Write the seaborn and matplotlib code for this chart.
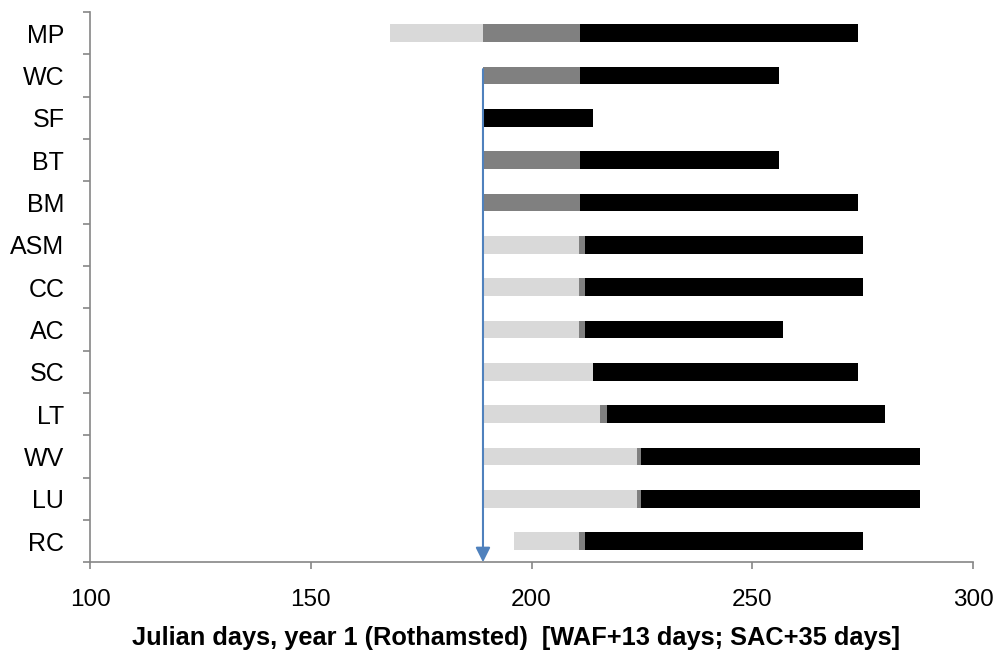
import matplotlib
matplotlib.use('Agg')
import matplotlib.pyplot as plt
import seaborn as sns
import pandas as pd
import numpy as np

sns.set_style('white')
plt.rcParams['font.family'] = ['Liberation Sans', 'DejaVu Sans']
plt.rcParams['text.color'] = 'black'
plt.rcParams['xtick.labelcolor'] = 'black'
plt.rcParams['ytick.labelcolor'] = 'black'
plt.rcParams['axes.labelcolor'] = 'black'

# crop codes, top to bottom
crops = ['MP', 'WC', 'SF', 'BT', 'BM', 'ASM', 'CC', 'AC', 'SC', 'LT', 'WV', 'LU', 'RC']
# Julian day where each bar starts
start = [168, 189, 189, 189, 189, 189, 189, 189, 189, 189, 189, 189, 196]
# end of light grey phase
light_end = [189, 189, 189, 189, 189, 210.8, 210.8, 210.8, 214, 215.6, 223.8, 223.8, 210.8]
# end of dark grey phase
dark_end = [211, 211, 189, 211, 211, 212.2, 212.2, 212.2, 214, 217, 224.8, 224.8, 212.2]
# end of black phase
end = [274, 256, 214, 256, 274, 275, 275, 257, 274, 280, 288, 288, 275]
arrow_day = 189

df = pd.DataFrame({'crop': crops, 'start': start, 'light_end': light_end,
                   'dark_end': dark_end, 'end': end})

fig, ax = plt.subplots(figsize=(9.97, 6.53), dpi=100)
fig.subplots_adjust(left=0.0903, right=0.976, top=0.9816, bottom=0.139)

bw = 0.42
# draw back to front, cumulative ends; white bar masks the part before start
sns.barplot(data=df, x='end', y='crop', color='black', width=bw, linewidth=0, ax=ax, orient='h')
sns.barplot(data=df, x='dark_end', y='crop', color='#808080', width=bw, linewidth=0, ax=ax, orient='h')
sns.barplot(data=df, x='light_end', y='crop', color='#d9d9d9', width=bw, linewidth=0, ax=ax, orient='h')
sns.barplot(data=df, x='start', y='crop', color='white', width=bw + 0.02, linewidth=0, ax=ax, orient='h')
for p in ax.patches:
    p.set_alpha(1)

ax.set_xlim(100, 300)
ax.set_ylim(len(crops) - 0.5, -0.5)
ax.set_xticks([100, 150, 200, 250, 300])
ax.set_yticks(np.arange(len(crops)))
ax.set_yticks(np.arange(len(crops) + 1) - 0.5, minor=True)
ax.set_yticklabels(crops)

gray = '#868686'
for s in ['top', 'right']:
    ax.spines[s].set_visible(False)
for s in ['left', 'bottom']:
    ax.spines[s].set_color(gray)
    ax.spines[s].set_linewidth(1.2)
ax.tick_params(axis='y', which='major', length=0, pad=18.5, labelsize=18)
ax.tick_params(axis='y', which='minor', length=5, width=1.2, color=gray, left=True)
ax.tick_params(axis='x', which='major', length=5, width=1.2, color=gray, bottom=True,
               pad=14, labelsize=17.5)

ax.set_xlabel('Julian days, year 1 (Rothamsted)  [WAF+13 days; SAC+35 days]',
              fontsize=18.3, fontweight='bold')
ax.xaxis.set_label_coords(0.4825, -0.115)
ax.set_ylabel('')

ax.annotate('', xy=(arrow_day, len(crops) - 0.5), xytext=(arrow_day, 0.85),
            arrowprops=dict(arrowstyle='-|>', color='#4f81bd', lw=1.5,
                            mutation_scale=22, shrinkA=0, shrinkB=0),
            annotation_clip=False)

fig.savefig('out.png', dpi=100)
